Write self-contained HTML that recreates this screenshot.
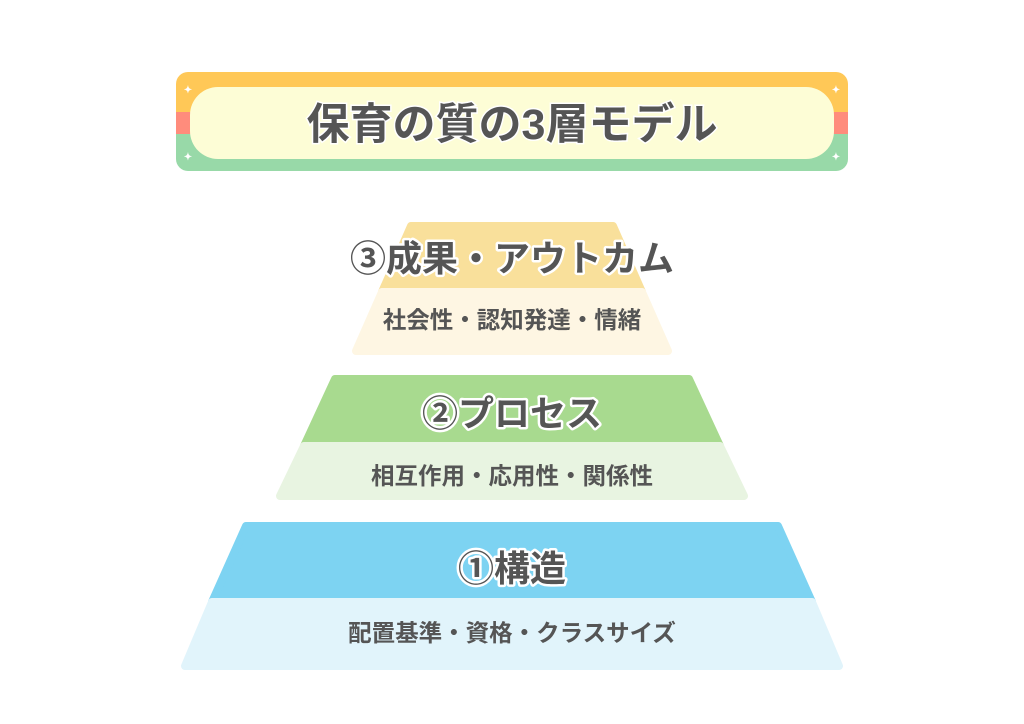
<!DOCTYPE html>
<html><head><meta charset="utf-8"><style>
html,body{margin:0;padding:0;background:#fff;width:1024px;height:724px;overflow:hidden}
svg{display:block}
text{font-family:"Liberation Sans","Noto Sans CJK JP",sans-serif;font-weight:bold;fill:#555;text-anchor:middle}
.big{font-size:36px;stroke:#fff;stroke-width:5px;paint-order:stroke;stroke-linejoin:round}
.sub{font-size:23.5px}
</style></head><body>
<svg width="1024" height="724" viewBox="0 0 1024 724">
<defs>
<clipPath id="bc"><rect x="176" y="72" width="672" height="99" rx="12"/></clipPath>
</defs>
<g clip-path="url(#bc)">
<rect x="176" y="72" width="672" height="41" fill="#FFC857"/>
<rect x="176" y="112" width="672" height="23" fill="#FF8C7C"/>
<rect x="176" y="134" width="672" height="37" fill="#98D9A8"/>
</g>
<rect x="190" y="87" width="644" height="72" rx="28" fill="#FDFDD6"/>
<text x="188" y="93" style="fill:#fff;font-size:10px">✦</text>
<text x="836" y="93" style="fill:#fff;font-size:10px">✦</text>
<text x="188" y="160" style="fill:#fff;font-size:10px">✦</text>
<text x="836" y="160" style="fill:#fff;font-size:10px">✦</text>
<text x="512" y="139" style="font-size:43px;stroke:#fff;stroke-width:3px;paint-order:stroke">保育の質の3層モデル</text>

<g stroke-linejoin="round" stroke-width="8">
<polygon points="411,226 613,226 642,292 382,292" fill="#F9E09B" stroke="#F9E09B"/>
<polygon points="382,292 642,292 668,351 356,351" fill="#FEF6E3" stroke="#FEF6E3"/>
<polygon points="335,379 689,379 720,446 304,446" fill="#A8DA8F" stroke="#A8DA8F"/>
<polygon points="304,446 720,446 744,496 280,496" fill="#E8F4E1" stroke="#E8F4E1"/>
<polygon points="246,526 778,526 812,602 212,602" fill="#7DD3F2" stroke="#7DD3F2"/>
<polygon points="212,602 812,602 839,666 185,666" fill="#E1F4FB" stroke="#E1F4FB"/>
</g>
<text class="big" x="512" y="271">③成果・アウトカム</text>
<text class="sub" x="512" y="328">社会性・認知発達・情緒</text>
<text class="big" x="512" y="426">②プロセス</text>
<text class="sub" x="512" y="484">相互作用・応用性・関係性</text>
<text class="big" x="512" y="581">①構造</text>
<text class="sub" x="512" y="641">配置基準・資格・クラスサイズ</text>
</svg>
</body></html>
